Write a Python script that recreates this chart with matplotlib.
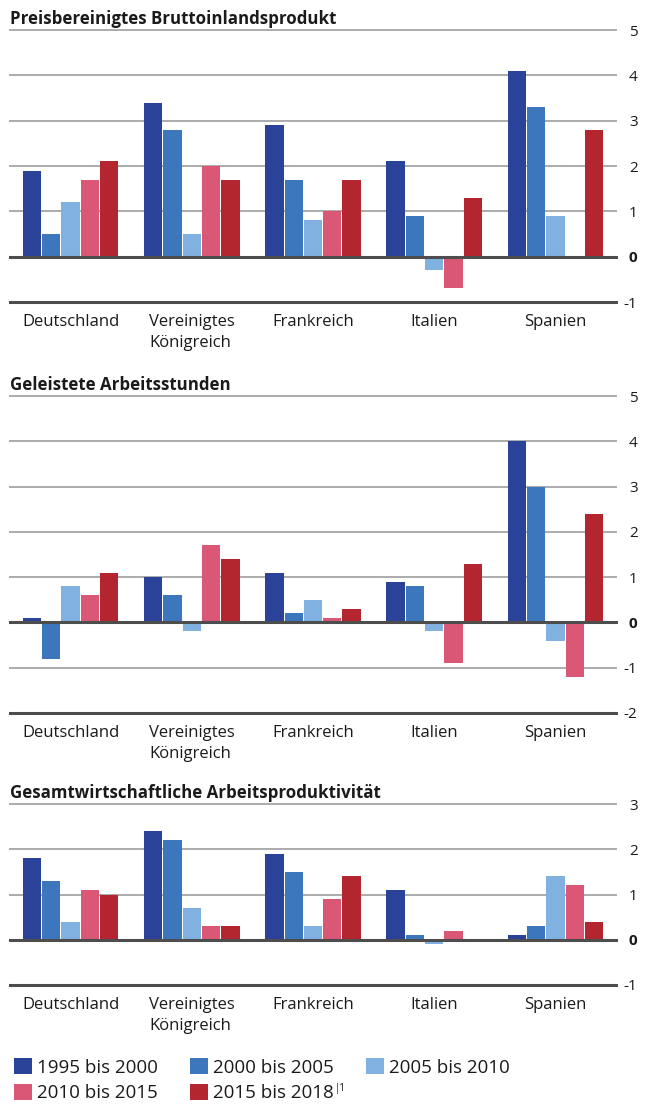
import numpy as np
import matplotlib
matplotlib.use("Agg")
import matplotlib.pyplot as plt
from matplotlib.patches import Patch

plt.rcParams['font.family'] = ['Open Sans', 'DejaVu Sans']

countries = ['Deutschland', 'Vereinigtes\nKönigreich', 'Frankreich', 'Italien', 'Spanien']
periods = ['1995 bis 2000', '2000 bis 2005', '2005 bis 2010', '2010 bis 2015', '2015 bis 2018']
colors = ['#2b4299', '#3c76bd', '#80b1e0', '#da5775', '#b3262f']

# values per period (rows) and country (columns)
bip = [
    [1.9, 3.4, 2.9, 2.1, 4.1],
    [0.5, 2.8, 1.7, 0.9, 3.3],
    [1.2, 0.5, 0.8, -0.3, 0.9],
    [1.7, 2.0, 1.0, -0.7, 0.0],
    [2.1, 1.7, 1.7, 1.3, 2.8],
]
stunden = [
    [0.1, 1.0, 1.1, 0.9, 4.0],
    [-0.8, 0.6, 0.2, 0.8, 3.0],
    [0.8, -0.2, 0.5, -0.2, -0.4],
    [0.6, 1.7, 0.1, -0.9, -1.2],
    [1.1, 1.4, 0.3, 1.3, 2.4],
]
produktivitaet = [
    [1.8, 2.4, 1.9, 1.1, 0.1],
    [1.3, 2.2, 1.5, 0.1, 0.3],
    [0.4, 0.7, 0.3, -0.1, 1.4],
    [1.1, 0.3, 0.9, 0.2, 1.2],
    [1.0, 0.3, 1.4, 0.0, 0.4],
]

panels = [
    ('Preisbereinigtes Bruttoinlandsprodukt', bip, (-1, 5)),
    ('Geleistete Arbeitsstunden', stunden, (-2, 5)),
    ('Gesamtwirtschaftliche Arbeitsproduktivität', produktivitaet, (-1, 3)),
]

W, H = 648, 1105
fig = plt.figure(figsize=(W / 100, H / 100), dpi=100)

# axes boxes in pixels: (top, bottom)
boxes = [(30, 302), (396, 713), (804, 985)]
left_px, right_px = 10, 616

step = 0.1594
bar_w = 0.151
x = np.arange(len(countries))

for (title, data, (ymin, ymax)), (top, bottom) in zip(panels, boxes):
    ax = fig.add_axes([left_px / W, (H - bottom) / H,
                       (right_px - left_px) / W, (bottom - top) / H])
    ax.set_xlim(-0.5, len(countries) - 0.5)
    ax.set_ylim(ymin, ymax)
    for s in ax.spines.values():
        s.set_visible(False)

    ticks = list(range(ymin, ymax + 1))
    for t in ticks:
        if t == 0 or t == ymin:
            ax.axhline(t, color='#4d4d4d', lw=2.2, zorder=3, clip_on=False)
        else:
            ax.axhline(t, color='#ababab', lw=1.4, zorder=0, clip_on=False)

    for i, vals in enumerate(data):
        ax.bar(x + (i - 2) * step, vals, width=bar_w, color=colors[i], zorder=2)

    ax.yaxis.tick_right()
    ax.set_yticks(ticks)
    ax.set_yticklabels([str(t) for t in ticks])
    ax.tick_params(axis='y', length=0, pad=15.5, labelsize=11, labelcolor='#1a1a1a')
    for lab, t in zip(ax.get_yticklabels(), ticks):
        lab.set_horizontalalignment('right')
        if t == 0:
            lab.set_fontweight('bold')

    ax.set_xticks(x)
    ax.set_xticklabels(countries)
    ax.tick_params(axis='x', length=0, pad=8.5, labelsize=12, labelcolor='#1a1a1a')
    for lab in ax.get_xticklabels():
        lab.set_multialignment('left')
        lab.set_linespacing(1.4)

    fig.text(left_px / W, 1 - (top - 6) / H, title, fontsize=12.2, fontweight='bold',
             color='#1a1a1a', ha='left', va='baseline')

handles = [Patch(facecolor=c, edgecolor='none') for c in colors]
order = [0, 3, 1, 4, 2]
leg = fig.legend([handles[i] for i in order], [periods[i] for i in order],
                 ncol=3, loc='upper left', bbox_to_anchor=(14 / W, 1 - 1058 / H),
                 frameon=False, fontsize=13.5, handlelength=0.96, handleheight=0.96,
                 handletextpad=0.27, columnspacing=1.7, labelspacing=0.37,
                 borderpad=0, borderaxespad=0)
for t in leg.get_texts():
    t.set_color('#1a1a1a')

# footnote mark after the last label
fig.canvas.draw()
last = leg.get_texts()[3]
bb = last.get_window_extent()
fig.text((bb.x1 + 1) / W, (bb.y1 + 1) / H, '|1', fontsize=7, color='#1a1a1a',
         ha='left', va='top')

fig.savefig('out.png', dpi=100)
